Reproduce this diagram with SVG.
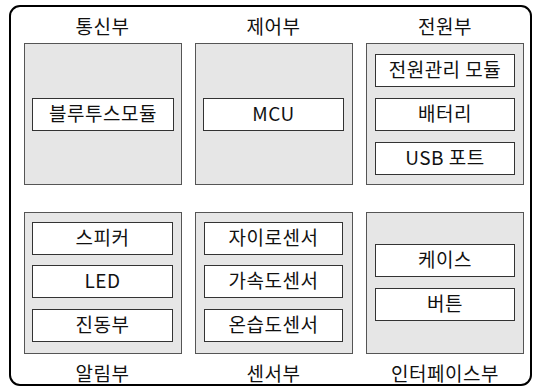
<svg xmlns="http://www.w3.org/2000/svg" width="533" height="387" viewBox="0 0 533 387">
<style>
.frame{fill:#fff;stroke:#000;stroke-width:2}
.grp{fill:#e6e6e6;stroke:#555;stroke-width:1}
.item{fill:#fff;stroke:#333;stroke-width:1}
text{font-family:"Noto Sans CJK KR","Noto Sans",sans-serif;font-size:19px;letter-spacing:0.5px;fill:#111;text-anchor:middle}
</style>
<rect width="533" height="387" fill="#fff"/>
<rect class="frame" x="10" y="6" width="521" height="379" rx="10" ry="10"/>
<g id="comm">
<text x="102.5" y="34">통신부</text>
<rect class="grp" x="24.5" y="43.5" width="157" height="141"/>
<rect class="item" x="32.5" y="98.5" width="141" height="32"/>
<text x="103" y="121">블루투스모듈</text>
</g>
<g id="control">
<text x="273.5" y="34">제어부</text>
<rect class="grp" x="195.5" y="43.5" width="157" height="141"/>
<rect class="item" x="203.5" y="98.5" width="140" height="32"/>
<text x="273.5" y="121">MCU</text>
</g>
<g id="power">
<text x="445" y="34">전원부</text>
<rect class="grp" x="366.5" y="43.5" width="157" height="141"/>
<rect class="item" x="375.5" y="54.5" width="139" height="32"/>
<text x="445" y="77">전원관리 모듈</text>
<rect class="item" x="375.5" y="98.5" width="139" height="32"/>
<text x="445" y="121">배터리</text>
<rect class="item" x="375.5" y="142.5" width="139" height="32"/>
<text x="445" y="165">USB 포트</text>
</g>
<g id="alarm">
<rect class="grp" x="24.5" y="212.5" width="157" height="141"/>
<rect class="item" x="32.5" y="222.5" width="140" height="32"/>
<text x="102.5" y="245">스피커</text>
<rect class="item" x="32.5" y="265.5" width="140" height="32"/>
<text x="102.5" y="288">LED</text>
<rect class="item" x="32.5" y="309.5" width="140" height="32"/>
<text x="102.5" y="332">진동부</text>
<text x="102.5" y="381">알림부</text>
</g>
<g id="sensor">
<rect class="grp" x="195.5" y="212.5" width="157" height="141"/>
<rect class="item" x="204.5" y="222.5" width="138" height="32"/>
<text x="273.5" y="245">자이로센서</text>
<rect class="item" x="204.5" y="265.5" width="138" height="32"/>
<text x="273.5" y="288">가속도센서</text>
<rect class="item" x="204.5" y="309.5" width="138" height="32"/>
<text x="273.5" y="332">온습도센서</text>
<text x="273.5" y="381">센서부</text>
</g>
<g id="interface">
<rect class="grp" x="366.5" y="212.5" width="157" height="141"/>
<rect class="item" x="375.5" y="244.5" width="139" height="32"/>
<text x="445" y="267">케이스</text>
<rect class="item" x="375.5" y="288.5" width="139" height="32"/>
<text x="445" y="311">버튼</text>
<text x="445" y="381">인터페이스부</text>
</g>
<g id="connectors"></g>
</svg>
